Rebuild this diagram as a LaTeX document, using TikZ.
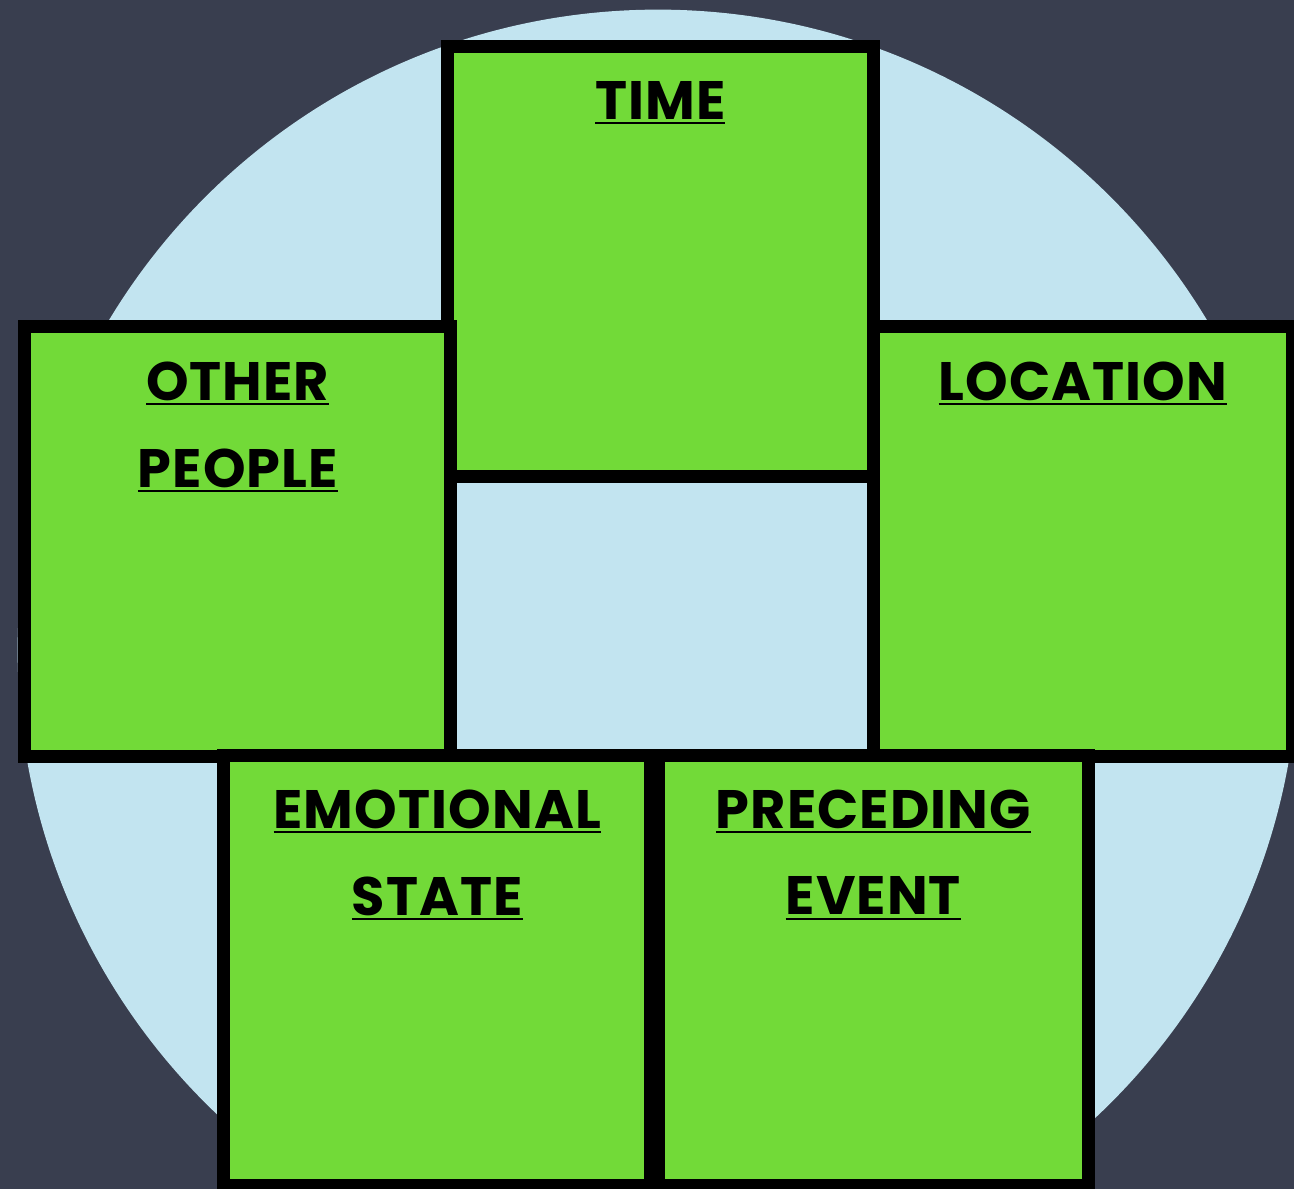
\documentclass[tikz,border=0pt]{standalone}
\usepackage{fontspec}
\setmainfont{Poppins}[LetterSpace=2.0]
\usepackage{tikz}
\usetikzlibrary{positioning}
\definecolor{slate}{HTML}{393E4F}
\definecolor{skyblue}{HTML}{C2E4F0}
\definecolor{leaf}{HTML}{72DA38}
\newcommand{\uword}[1]{\setbox0\hbox{#1}\rlap{\rule[-1.4pt]{\wd0}{0.6pt}}\box0}
\tikzset{
  panel/.style={rectangle, draw=black, fill=leaf, line width=0.13cm, outer sep=0pt, inner sep=0pt,
    minimum width=4.27cm, minimum height=4.29cm},
  title/.style={align=center, inner sep=0pt, font=\fontsize{15.4}{24.7}\selectfont\bfseries},
  every picture/.style={line join=miter}
}

\begin{document}
\begin{tikzpicture}[x=0.01cm, y=-0.01cm]
  \useasboundingbox[fill=slate] (0,0) rectangle (1294,1189);
  \fill[skyblue] (658,650) circle [radius=6.4cm];
  \node[panel, minimum width=4.255cm, minimum height=4.295cm] (time) at (660.25,261.25) {};
  \node[panel, minimum width=4.255cm] (other) at (237.75,541.5) {};
  \node[panel, minimum width=4.19cm] (location) at (1082.9,541.4) {};
  \node[panel, minimum width=4.265cm] (emotional) at (437.25,970.5) {};
  \node[panel, minimum width=4.295cm] (preceding) at (873.25,970.5) {};
  \node[title, below=0.34cm of time.north] (timet) {\uword{TIME}};
  \node[title, below=0.34cm of other.north] (othert) {\uword{OTHER}\\\uword{PEOPLE}};
  \node[title, below=0.34cm of location.north] (locationt) {\uword{LOCATION}};
  \node[title, below=0.33cm of emotional.north] (emotionalt) {\uword{EMOTIONAL}\\\uword{STATE}};
  \node[title, below=0.33cm of preceding.north] (precedingt) {\uword{PRECEDING}\\\uword{EVENT}};
\end{tikzpicture}
\end{document}
